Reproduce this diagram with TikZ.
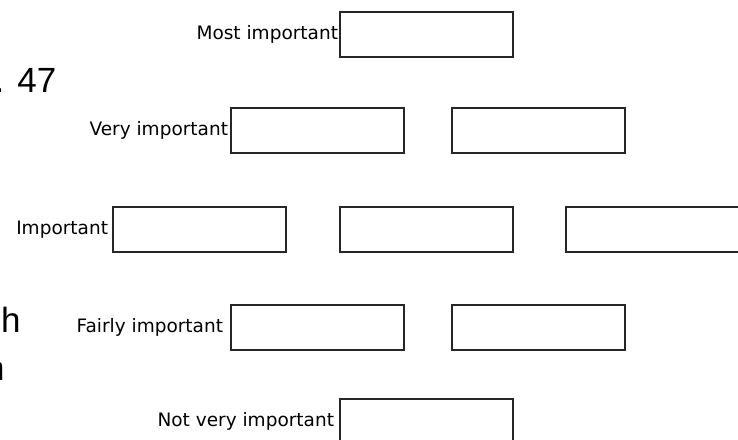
\documentclass[tikz,border=0pt]{standalone}
\usepackage{fontspec}
\newfontfamily\boxfont{DejaVu Sans}
\newfontfamily\qfont{Liberation Sans}
\usetikzlibrary{positioning}

\begin{document}
\begin{tikzpicture}[x=1pt,y=-1pt,
	ansbox/.style={draw=black!85,line width=1.2pt,anchor=north west,
		minimum width=173pt,minimum height=45pt,inner sep=0pt,outer sep=0pt},
	rowlabel/.style={font=\boxfont\fontsize{18.5}{22}\selectfont,inner sep=0pt,outer sep=0pt},
	cut/.style={font=\qfont\fontsize{35}{40}\selectfont,inner sep=0pt,anchor=base west}]
\useasboundingbox (0,0) rectangle (738,439);
% answer boxes
\node[ansbox] (most) at (340,12) {};
\node[ansbox] (very1) at (231,108) {};
\node[ansbox] (very2) at (452,108) {};
\node[ansbox] (imp1) at (113,207) {};
\node[ansbox] (imp2) at (340,207) {};
\node[ansbox] (imp3) at (566,207) {};
\node[ansbox] (fair1) at (231,305) {};
\node[ansbox] (fair2) at (452,305) {};
\node[ansbox] (notvery) at (340,399) {};
% row labels
\node[rowlabel,left=2pt of most] (lmost) {Most important};
\node[rowlabel,left=3pt of very1] (lvery) {Very important};
\node[rowlabel,left=5pt of imp1] (limp) {Important};
\node[rowlabel,left=8pt of fair1] (lfair) {Fairly important};
\node[rowlabel,left=6pt of notvery] (lnotvery) {Not very important};
% text cut off at the left edge
\node[cut] (qnum) at (-5.5,92) {. 47};
\node[cut] (qh) at (1,332) {h};
\node[cut] (qn) at (-15,380) {n};
\end{tikzpicture}
\end{document}
